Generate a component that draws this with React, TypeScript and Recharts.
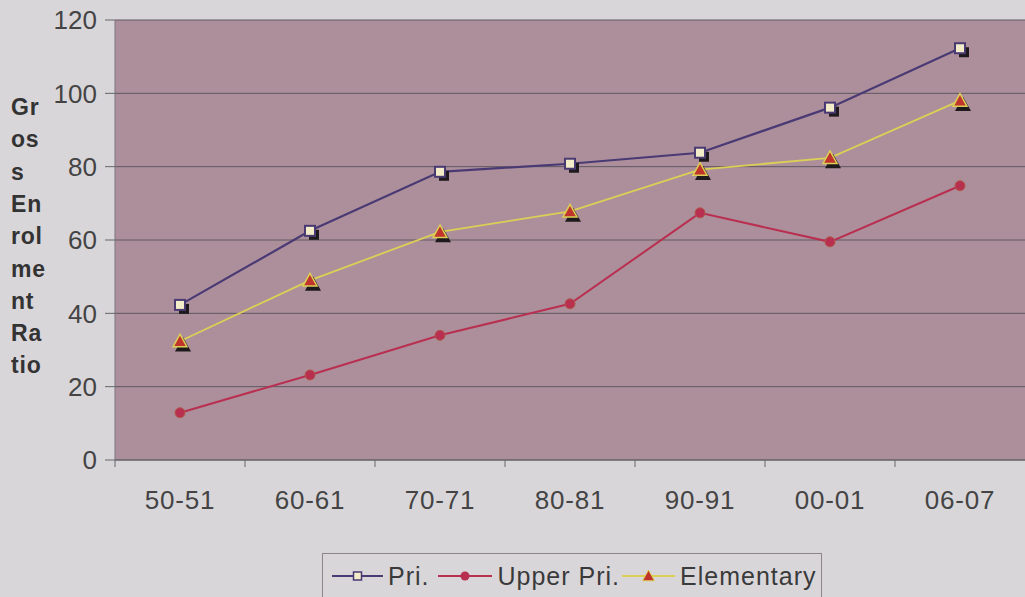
import React from "react";
import { LineChart, Line, XAxis, YAxis, CartesianGrid } from "recharts";

const years = ["50-51", "60-61", "70-71", "80-81", "90-91", "00-01", "06-07"];
const pri = [42.3, 62.5, 78.6, 80.8, 83.8, 96.1, 112.3];
const upperPri = [12.9, 23.2, 34.0, 42.6, 67.4, 59.5, 74.8];
const elementary = [32.4, 49.0, 62.2, 67.8, 79.2, 82.4, 98.0];
const yTicks = [0, 20, 40, 60, 80, 100, 120];
const titleLines = ["Gr", "os", "s", "En", "rol", "me", "nt", "Ra", "tio"];

const data = years.map((y, i) => ({
  year: y,
  pri: pri[i],
  upper: upperPri[i],
  elem: elementary[i]
}));

const FONT = "'Liberation Sans', Arial, sans-serif";
const PAGE = "#d9d6da";
const PLOT = "#ad8f9c";
const PRI_C = "#4a3a74";
const UPPER_C = "#b92f50";
const ELEM_C = "#dccf55";

const SquareDot = (p: any) => {
  if (p.cx == null || p.cy == null) return null;
  const s = 10;
  return (
    <g>
      <rect x={p.cx - s / 2 + 4} y={p.cy - s / 2 + 4} width={s} height={s} fill="#1e1a1c" />
      <rect x={p.cx - s / 2} y={p.cy - s / 2} width={s} height={s} fill="#f3ecc8" stroke={PRI_C} strokeWidth={2} />
    </g>
  );
};

const CircleDot = (p: any) => {
  if (p.cx == null || p.cy == null) return null;
  return <circle cx={p.cx} cy={p.cy} r={5} fill={UPPER_C} stroke="#b05848" strokeWidth={1} />;
};

const tri = (cx: number, cy: number, s: number) =>
  `${cx},${cy - s} ${cx + s},${cy + s * 0.8} ${cx - s},${cy + s * 0.8}`;

const TriDot = (p: any) => {
  if (p.cx == null || p.cy == null) return null;
  return (
    <g>
      <polygon points={tri(p.cx + 3, p.cy + 4, 8)} fill="#1e1a1c" />
      <polygon points={tri(p.cx, p.cy, 7)} fill="#c0342c" stroke={ELEM_C} strokeWidth={1.5} />
    </g>
  );
};

const XTick = (p: any) => {
  const off = p.payload?.offset ?? 0;
  return (
    <g>
      <line x1={p.x - off} x2={p.x - off} y1={p.y - 8} y2={p.y - 1} stroke="#666" />
      <text x={p.x} y={p.y + 41} textAnchor="middle" fontSize={26} letterSpacing={0.8} fill="#444" fontFamily={FONT}>
        {p.payload.value}
      </text>
    </g>
  );
};

const YTitle = (p: any) => {
  const vb = p.viewBox || { x: 0, y: 0 };
  return (
    <text x={vb.x + 11} y={0} fontSize={23} letterSpacing={0.8} fontWeight="bold" fill="#333" fontFamily={FONT}>
      {titleLines.map((t, i) => (
        <tspan key={i} x={vb.x + 11} y={115 + i * 32.3}>
          {t}
        </tspan>
      ))}
    </text>
  );
};

const LegendItem = ({ kind, color, label, lineW, gap, after }: any) => (
  <span style={{ display: "inline-flex", alignItems: "center", marginRight: after }}>
    <svg width={lineW} height={20} style={{ marginRight: gap }}>
      <line x1={0} x2={lineW} y1={10} y2={10} stroke={color} strokeWidth={2} />
      {kind === "sq" && <rect x={lineW / 2 - 4} y={6} width={8} height={8} fill="#f3ecc8" stroke={PRI_C} strokeWidth={1.5} />}
      {kind === "ci" && <circle cx={lineW / 2} cy={10} r={4.5} fill={UPPER_C} />}
      {kind === "tr" && <polygon points={tri(lineW / 2, 10, 6)} fill="#c0342c" stroke={ELEM_C} />}
    </svg>
    <span>{label}</span>
  </span>
);

export default function App() {
  return (
    <div
      style={{
        position: "absolute",
        left: 0,
        top: 0,
        width: 1025,
        height: 597,
        background: PAGE,
        overflow: "hidden"
      }}
    >
      <LineChart width={1025} height={597} data={data} margin={{ top: 20, right: 0, left: 0, bottom: 0 }}>
        <CartesianGrid fill={PLOT} vertical={false} stroke="#5e5860" strokeWidth={1} />
        <XAxis
          dataKey="year"
          scale="band"
          height={137}
          axisLine={{ stroke: "#666" }}
          tickLine={false}
          tick={<XTick />}
          interval={0}
        />
        <YAxis
          domain={[0, 120]}
          ticks={yTicks}
          width={115}
          tickSize={10}
          tickMargin={8}
          axisLine={{ stroke: "#7a7480" }}
          tickLine={{ stroke: "#666" }}
          tick={{ fontSize: 26, fill: "#444", fontFamily: FONT }}
          label={{ content: <YTitle /> }}
        />
        <Line
          dataKey="upper"
          stroke={UPPER_C}
          strokeWidth={2}
          dot={(p: any) => <CircleDot key={`c${p.index}`} {...p} />}
          isAnimationActive={false}
        />
        <Line
          dataKey="elem"
          stroke={ELEM_C}
          strokeWidth={1.8}
          dot={(p: any) => <TriDot key={`t${p.index}`} {...p} />}
          isAnimationActive={false}
        />
        <Line
          dataKey="pri"
          stroke={PRI_C}
          strokeWidth={2.2}
          dot={(p: any) => <SquareDot key={`s${p.index}`} {...p} />}
          isAnimationActive={false}
        />
      </LineChart>
      <div
        style={{
          position: "absolute",
          left: 322,
          top: 553,
          width: 500,
          height: 50,
          border: "1px solid #8a868a",
          boxSizing: "border-box",
          fontFamily: FONT,
          fontSize: 25,
          letterSpacing: 1,
          color: "#3a3a3a",
          paddingLeft: 9,
          paddingBottom: 4,
          display: "flex",
          alignItems: "center",
          whiteSpace: "nowrap"
        }}
      >
        <LegendItem kind="sq" color={PRI_C} label="Pri." lineW={51} gap={5} after={8} />
        <LegendItem kind="ci" color={UPPER_C} label="Upper Pri." lineW={54} gap={6} after={2} />
        <LegendItem kind="tr" color={ELEM_C} label="Elementary" lineW={53} gap={5} after={0} />
      </div>
    </div>
  );
}
